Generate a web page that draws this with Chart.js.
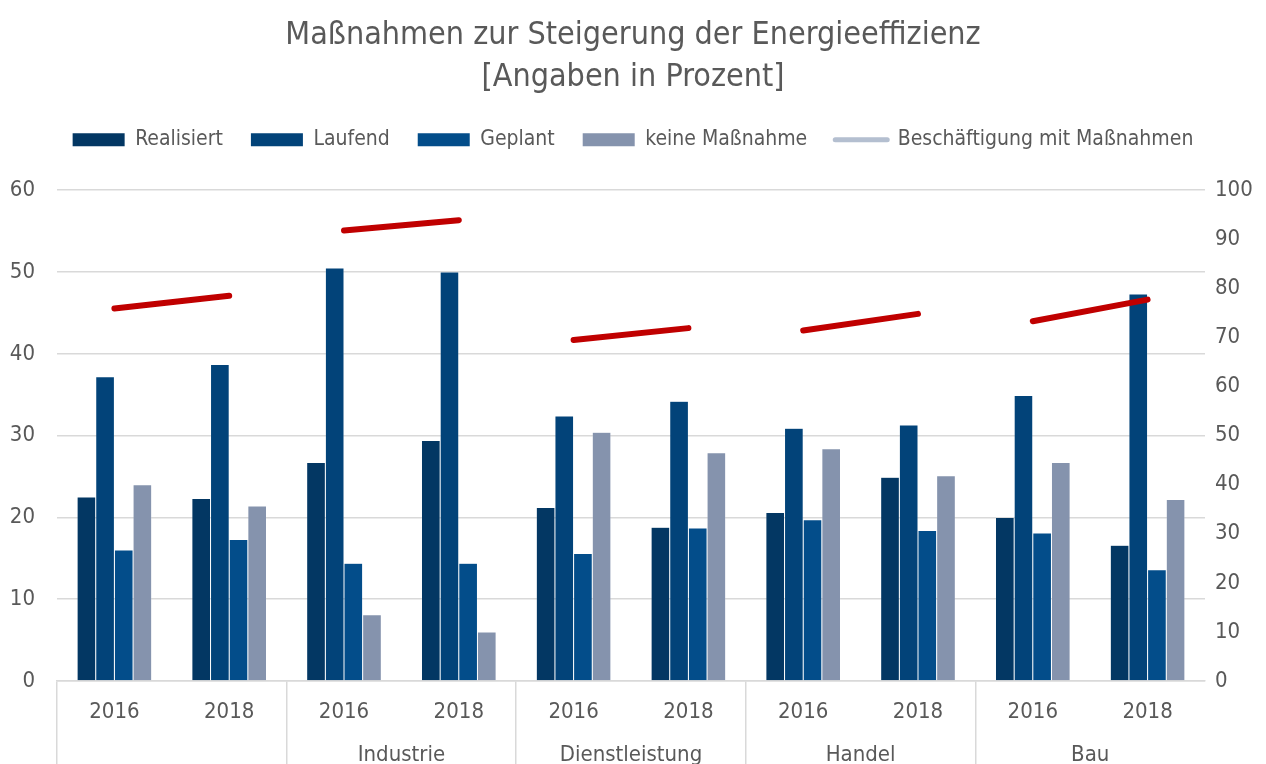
<!DOCTYPE html>
<html lang="de">
<head>
<meta charset="utf-8">
<title>Maßnahmen zur Steigerung der Energieeffizienz</title>
<script src="https://cdn.jsdelivr.net/npm/chart.js@4"></script>
<style>
  html, body { margin: 0; padding: 0; background: #fff; overflow: hidden; }
  #wrap { position: absolute; left: 0; top: 0; width: 1266px; height: 790px; }
</style>
</head>
<body>
<div id="wrap"><canvas id="chart"></canvas></div>
<script>
// ── Data ─────────────────────────────────────────────────────────
const years  = ['2016', '2018', '2016', '2018', '2016', '2018', '2016', '2018', '2016', '2018'];
const groups = ['', 'Industrie', 'Dienstleistung', 'Handel', 'Bau'];

const realisiert     = [22.5, 22.3, 26.7, 29.4, 21.2, 18.8, 20.6, 24.9, 20.0, 16.6];
const laufend        = [37.2, 38.7, 50.5, 50.0, 32.4, 34.2, 30.9, 31.3, 34.9, 47.3];
const geplant        = [16.0, 17.3, 14.4, 14.4, 15.6, 18.7, 19.7, 18.4, 18.1, 13.6];
const keineMassnahme = [24.0, 21.4,  8.1,  6.0, 30.4, 27.9, 28.4, 25.1, 26.7, 22.2];
const beschaeftigung = [75.9, 78.5, 91.8, 93.9, 69.5, 71.9, 71.4, 74.8, 73.3, 77.7];

// ── Styling ──────────────────────────────────────────────────────
const TEXT  = '#595959';
const GRID  = '#d9d9d9';
const LINE  = '#c00000';
const LEGEND_LINE = '#b4bfd0';

Chart.defaults.font.family = "'Liberation Sans Narrow', 'DejaVu Sans Condensed', 'Liberation Sans', sans-serif";
Chart.defaults.color = TEXT;

// extra room between legend and plot area
const legendGap = {
  id: 'legendGap',
  beforeLayout(chart) {
    const lg = chart.legend;
    if (!lg || lg._gapPatched) return;
    const fit = lg.fit;
    lg.fit = function () { fit.call(this); this.height += 30; };
    lg._gapPatched = true;
  }
};

const bar = (label, data, color) => ({
  type: 'bar', label, data,
  backgroundColor: color,
  borderColor: 'rgba(255,255,255,.3)',
  borderWidth: 0.5,
  categoryPercentage: 0.65,
  barPercentage: 1,
  order: 1
});

new Chart(document.getElementById('chart'), {
  data: {
    labels: years,
    datasets: [
      bar('Realisiert', realisiert, '#033763'),
      bar('Laufend', laufend, '#024379'),
      bar('Geplant', geplant, '#034d8a'),
      bar('keine Maßnahme', keineMassnahme, '#8593ad'),
      {
        type: 'line',
        label: 'Beschäftigung mit Maßnahmen',
        data: beschaeftigung,
        yAxisID: 'y1',
        borderColor: LINE,
        borderWidth: 6,
        borderCapStyle: 'round',
        pointRadius: 0,
        order: 0,
        // only join 2016 → 2018 inside a sector
        segment: { borderColor: ctx => ctx.p0DataIndex % 2 === 1 ? 'transparent' : LINE }
      }
    ]
  },
  options: {
    responsive: true,
    maintainAspectRatio: false,
    animation: false,
    layout: { padding: 0 },
    plugins: {
      title: {
        display: true,
        text: ['Maßnahmen zur Steigerung der Energieeffizienz', '[Angaben in Prozent]'],
        color: TEXT,
        font: { size: 32, weight: 'normal', lineHeight: 1.3 },
        padding: { top: 15, bottom: 3 }
      },
      legend: {
        labels: {
          usePointStyle: true,
          pointStyleWidth: 52,
          boxHeight: 13,
          padding: 28,
          color: TEXT,
          font: { size: 21 },
          generateLabels: chart => chart.data.datasets.map((ds, i) => {
            const isLine = ds.type === 'line';
            return {
              text: ds.label,
              fillStyle: isLine ? LEGEND_LINE : ds.backgroundColor,
              strokeStyle: isLine ? LEGEND_LINE : ds.backgroundColor,
              lineWidth: isLine ? 5 : 0,
              lineCap: 'round',
              pointStyle: isLine ? 'line' : 'rect',
              fontColor: TEXT,
              hidden: !chart.isDatasetVisible(i),
              datasetIndex: i
            };
          })
        }
      },
      tooltip: { enabled: false }
    },
    scales: {
      x: {
        type: 'category',
        position: 'bottom',
        weight: 0,
        offset: true,
        grid: {
          offset: true,
          drawOnChartArea: false,
          tickLength: 62,
          lineWidth: 1.5,
          color: ctx => (ctx.index % 2 === 0 && ctx.index < years.length) ? GRID : 'transparent'
        },
        border: { color: GRID, width: 1.5 },
        ticks: { padding: -44, color: TEXT, font: { size: 22 }, maxRotation: 0, autoSkip: false },
        afterFit: s => { s.height = 62; }
      },
      x2: {
        type: 'category',
        position: 'bottom',
        weight: 1,
        labels: groups,
        offset: true,
        grid: {
          offset: true,
          drawOnChartArea: false,
          tickLength: 60,
          lineWidth: 1.5,
          color: ctx => ctx.index < groups.length ? GRID : 'transparent'
        },
        border: { display: false },
        ticks: { padding: -61, color: TEXT, font: { size: 22 }, maxRotation: 0, autoSkip: false },
        afterFit: s => { s.height = 47; }
      },
      y: {
        position: 'left',
        min: 0, max: 60,
        ticks: { stepSize: 10, padding: 22, color: TEXT, font: { size: 22 } },
        grid: { color: GRID, lineWidth: 1.5, drawTicks: false },
        border: { display: false },
        afterFit: s => { s.width = 57; }
      },
      y1: {
        position: 'right',
        min: 0, max: 100,
        ticks: { stepSize: 10, padding: 10, color: TEXT, font: { size: 22 } },
        grid: { drawOnChartArea: false, drawTicks: false },
        border: { display: false },
        afterFit: s => { s.width = 61; }
      }
    }
  },
  plugins: [legendGap]
});
</script>
</body>
</html>
